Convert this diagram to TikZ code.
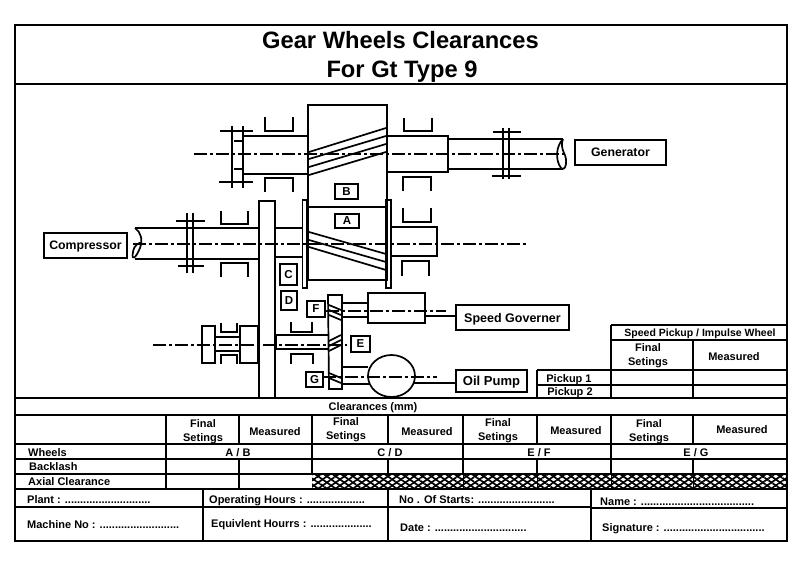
\documentclass[tikz,border=0pt]{standalone}
\usepackage{fontspec}
\setmainfont{Liberation Sans}
\usetikzlibrary{patterns.meta}
\newcommand{\txs}[1]{\fontsize{#1}{#1}\selectfont\bfseries}
\newcommand{\bearU}[4]{\draw[ln] (#1,#3) -- (#1,#4) -- (#2,#4) -- (#2,#3);}
\newcommand{\bearC}[4]{\draw[ln] (#1,#4) -- (#1,#3) -- (#2,#3) -- (#2,#4);}
\tikzset{
  tl/.style={line width=2pt,black},
  ln/.style={line width=1.7pt,black},
  cl/.style={line width=1.6pt,black,dash pattern=on 13pt off 3pt on 3pt off 3pt},
  tag/.style={draw,line width=1.7pt,inner sep=0pt,font=\txs{11.5},fill=white},
  lab/.style={draw,line width=2pt,inner sep=0pt,fill=white,text depth=0pt},
  tx/.style={inner sep=0pt,font=\txs{11},anchor=center,yshift=-1.5pt,execute at begin node={\vphantom{Apg}}},
  tw/.style={inner sep=0pt,font=\txs{11},anchor=west,yshift=-1.5pt,execute at begin node={\vphantom{Apg}}},
}
\begin{document}
\begin{tikzpicture}[x=1pt,y=-1pt]
\useasboundingbox (0,0) rectangle (804,571);
\fill[white] (0,0) rectangle (804,571);
% ---- hatch
\fill[white] (312,474) rectangle (787,489);
\fill[pattern={Lines[angle=35,distance=5pt,line width=1.7pt]},pattern color=black] (312,474) rectangle (787,489);
\fill[pattern={Lines[angle=-35,distance=5pt,line width=1.7pt]},pattern color=black] (312,474) rectangle (787,489);
\foreach \x in {463,537,611,693}{\draw[line width=1pt] (\x,474) -- (\x,489);}
% ---- frame and table
\draw[tl] (15,25) rectangle (787,541);
\draw[tl] (15,84) -- (787,84);
\draw[tl] (15,398) -- (787,398);
\draw[tl] (15,415) -- (787,415);
\draw[tl] (15,444) -- (787,444);
\draw[tl] (15,459) -- (787,459);
\draw[tl] (15,474) -- (787,474);
\draw[tl] (15,489) -- (787,489);
\draw[tl] (15,507) -- (591,507);
\draw[tl] (591,508) -- (787,508);
\foreach \x in {166,312,463,611}{\draw[tl] (\x,415) -- (\x,474);}
\draw[tl] (166,474) -- (166,489);
\foreach \x in {239,388,537,693}{\draw[tl] (\x,415) -- (\x,444);\draw[tl] (\x,459) -- (\x,474);}
\draw[tl] (239,474) -- (239,489);
\foreach \x in {203,388,591}{\draw[tl] (\x,489) -- (\x,541);}
% pickup table
\draw[tl] (611,325) -- (787,325);
\draw[tl] (611,340) -- (787,340);
\draw[tl] (537,370) -- (787,370);
\draw[tl] (537,385) -- (787,385);
\draw[tl] (611,325) -- (611,398);
\draw[tl] (537,370) -- (537,398);
\draw[tl] (693,340) -- (693,398);
% ---- titles
\node[tx,font=\txs{23.7}] (t1) at (400.5,41) {Gear Wheels Clearances};
\node[tx,font=\txs{23.7},yshift=-1.5pt] (t2) at (402,69) {For Gt Type 9};
% ---- upper gear
\draw[ln] (308,207) -- (308,105) -- (387,105) -- (387,207);
\draw[ln] (309,152) -- (386,128) (309,159) -- (386,136) (309,167) -- (386,144) (309,175) -- (386,152);
\draw[ln] (243,136) -- (308,136) (243,174) -- (308,174);
\draw[ln] (232,126) -- (232,188) (243,126) -- (243,188);
\draw[ln] (220,131) -- (253,131) (219,182) -- (253,182);
\draw[ln] (234,141) -- (243,141) (234,169) -- (243,169);
\bearU{265}{293}{117}{131}
\bearC{265}{293}{178}{192}
\bearU{404}{432}{118}{131}
\bearC{403}{431}{177}{191}
\draw[ln] (387,136) -- (448,136) -- (448,172) -- (387,172);
\draw[ln] (448,139) -- (563,139) (448,169) -- (563,169);
\draw[ln] (503,128) -- (503,179) (509,128) -- (509,179);
\draw[ln] (493,132) -- (521,132) (492,176) -- (521,176);
\draw[ln] (563,139) .. controls (556,146) and (555,160) .. (561,168) .. controls (566,172) and (568,160) .. (564,153) .. controls (562,149) and (561,143) .. (563,139);
\draw[cl] (194,154) -- (567,154);
% ---- lower main gear
\draw[ln] (308,207) -- (387,207) (308,207) -- (308,280) -- (387,280) -- (387,207);
\draw[ln] (309,232) -- (386,254) (309,240) -- (386,262) (309,247) -- (386,270);
\draw[ln] (302.5,200) rectangle (307,288);
\draw[ln] (386,200) rectangle (391,288);
\draw[ln] (391,227) -- (437,227) -- (437,256) -- (391,256);
\bearU{403}{431}{208}{222}
\bearC{402}{429}{261}{276}
% compressor shaft
\draw[ln] (135,228) -- (259,228) (135,259) -- (259,259);
\draw[ln] (135,228) .. controls (141,232) and (143,240) .. (140,248) .. controls (136,258) and (131,262) .. (133,252) .. controls (134,245) and (139,242) .. (142,243);
\draw[ln] (187,213) -- (187,273) (193,213) -- (193,273);
\draw[ln] (176,221) -- (205,221) (178,266) -- (204,266);
\bearU{221}{248}{211}{224}
\bearC{221}{248}{263}{277}
\draw[ln] (259,398) -- (259,201) -- (275,201) -- (275,398);
\draw[ln] (275,228) -- (302,228) (275,257) -- (302,257);
\draw[cl] (133,244) -- (528,244);
% ---- small gear column
\draw[ln] (328,295) -- (342,295) -- (342,389) -- (329,389) -- cycle;
\draw[ln] (329,305) -- (341,310) (329,310) -- (341,315) (329,315) -- (341,320);
\draw[ln] (329,341) -- (341,335) (329,346) -- (341,340) (329,351) -- (341,345);
\draw[ln] (329,373) -- (341,378) (329,378) -- (341,383);
% governor
\draw[ln] (368,293) rectangle (425,323);
\draw[ln] (342,303) -- (368,303) (342,317) -- (368,317);
\draw[ln] (425,316) -- (456,316);
\draw[cl] (326,311) -- (446,311);
% oil pump
\draw[ln] (391.5,376) ellipse [x radius=23.5,y radius=21];
\draw[ln] (342,367) -- (368,367) (342,384) -- (370,384);
\draw[ln] (413,383) -- (456,383);
\draw[cl] (323,377) -- (437,377);
% lower shaft
\draw[ln] (276,335) -- (328,335);
\draw[line width=2pt] (276,349) -- (328,349);
\draw[line width=2.6pt] (258,330) -- (258,360) (276,335) -- (276,350);
\draw[ln] (202,326) rectangle (215,363);
\draw[ln] (240,326) rectangle (258,363);
\draw[ln] (215,337) -- (240,337) (215,351) -- (240,351);
\bearU{221}{237}{323}{332}
\bearC{221}{237}{355}{364}
\bearU{291}{312}{322}{332}
\bearC{291}{313}{354}{364}
\draw[cl] (153,345) -- (347,345);
% ---- tag boxes
\node[tag,minimum width=23pt,minimum height=15pt] (B) at (346.5,191.5) {B};
\node[tag,minimum width=24pt,minimum height=14pt] (A) at (347,221) {A};
\node[tag,minimum width=17pt,minimum height=21pt] (C) at (288.5,274.5) {C};
\node[tag,minimum width=16pt,minimum height=19pt] (D) at (289,300.5) {D};
\node[tag,minimum width=18pt,minimum height=16pt] (F) at (316,309) {F};
\node[tag,minimum width=19pt,minimum height=16pt] (E) at (360.5,344) {E};
\node[tag,minimum width=17pt,minimum height=15pt] (G) at (314.5,379.5) {G};
% ---- labelled boxes
\node[lab,minimum width=91pt,minimum height=25pt,font=\txs{12.3}] (gen) at (620.5,152.5) {Generator};
\node[lab,minimum width=83pt,minimum height=25pt,font=\txs{12.3}] (comp) at (85.5,245.5) {Compressor};
\node[lab,minimum width=113pt,minimum height=25pt,font=\txs{12.5}] (gov) at (512.5,317.5) {Speed Governer};
\node[lab,minimum width=71pt,minimum height=22pt,font=\txs{13}] (oil) at (491.5,381) {Oil Pump};
% ---- table text
\node[tx] (c0) at (373,406) {Clearances (mm)};
\node[tx,font=\txs{10.5}] (sp) at (700,332.5) {Speed Pickup / Impulse Wheel};
\node[tx] (p1a) at (648,347) {Final};
\node[tx] (p1b) at (648,361) {Setings};
\node[tx] (p1c) at (734,356) {Measured};
\node[tx] (pk1) at (569,378) {Pickup 1};
\node[tx] (pk2) at (570,391) {Pickup 2};
\node[tx] (f1a) at (203,423) {Final};
\node[tx] (f1b) at (203,437) {Setings};
\node[tx] (m1) at (275,431) {Measured};
\node[tx] (f2a) at (346,421) {Final};
\node[tx] (f2b) at (346,435) {Setings};
\node[tx] (m2) at (427,431) {Measured};
\node[tx] (f3a) at (498,422) {Final};
\node[tx] (f3b) at (498,436) {Setings};
\node[tx] (m3) at (576,430) {Measured};
\node[tx] (f4a) at (649,423) {Final};
\node[tx] (f4b) at (649,437) {Setings};
\node[tx] (m4) at (742,429) {Measured};
\node[tw] (w) at (28,452) {Wheels};
\node[tw] (bl) at (29,466) {Backlash};
\node[tw] (ax) at (28,481) {Axial Clearance};
\node[tx] (ab) at (238,452) {A / B};
\node[tx] (cd) at (390,452) {C / D};
\node[tx] (ef) at (539,452.5) {E / F};
\node[tx] (eg) at (696,452) {E / G};
\node[tw] (pl) at (27,499) {Plant : ............................};
\node[tw] (mc) at (27,524) {Machine No : ..........................};
\node[tw] (op) at (209,499) {Operating Hours : ...................};
\node[tw] (eq) at (211,523) {Equivlent Hourrs : ....................};
\node[tw] (st) at (399,499) {No . Of Starts: .........................};
\node[tw] (da) at (400,527) {Date : ..............................};
\node[tw] (na) at (600,501) {Name : .....................................};
\node[tw] (si) at (602,527) {Signature : .................................};
\end{tikzpicture}
\end{document}
